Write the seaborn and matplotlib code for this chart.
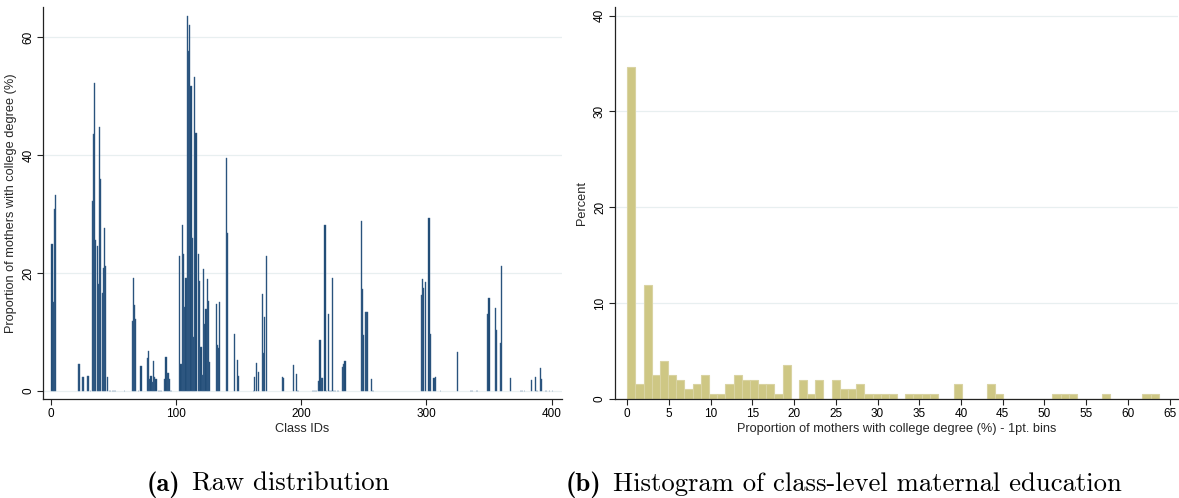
import numpy as np
import pandas as pd
import matplotlib
matplotlib.use("Agg")
import matplotlib.pyplot as plt
import seaborn as sns

# ---------------- data ----------------
# (a) raw distribution: class id -> proportion of mothers with college degree (%)
class_ids = [1, 2, 3, 4, 22, 23, 25, 26, 29, 30, 32,
             33, 34, 35, 36, 37, 38, 39, 40, 41, 42, 43, 44, 45,
             47, 48, 49, 50, 51, 52, 59,
             65, 66, 67, 68, 70, 72, 77, 78, 79, 80, 81, 82, 83, 84,
             86, 87, 88, 91, 92, 93, 94, 95, 96,
             103, 104, 105, 106, 107, 108, 109, 110, 111, 112, 113, 114, 115, 116,
             118, 119, 120, 121, 122, 123, 124, 125, 126, 127,
             132, 133, 134, 135, 140, 141, 147, 149, 150,
             162, 163, 164, 166, 169, 170, 171, 172,
             185, 186, 194, 196, 197, 198,
             209, 210, 211, 212, 214, 215, 216, 217, 219, 220, 222, 223, 224,
             225, 226, 227, 229, 230, 233, 234, 235,
             248, 249, 250, 251, 252, 253, 256, 257, 258,
             296, 297, 298, 299, 302, 303, 306, 307, 311, 325,
             335, 336, 337, 340, 341, 349, 350, 355, 356, 359, 360, 367,
             375, 376, 377, 378, 384, 387, 388, 389, 391, 392,
             395, 396, 398, 401]
class_values = [24.9, 15.1, 30.8, 33.3, 4.6, 4.5, 2.3, 2.3, 2.5, 2.5, 0.0,
                32.2, 43.6, 52.2, 25.6, 24.6, 18.1, 44.7, 35.9, 16.6, 20.9, 27.7, 21.1, 2.3,
                0.0, 0.0, 0.0, 0.0, 0.0, 0.0, 0.0,
                11.9, 19.1, 14.5, 12.2, 0.0, 4.2, 5.5, 6.7, 2.0, 2.5, 1.5, 5.1, 2.3, 2.0,
                0.0, 0.0, 0.0, 2.0, 5.8, 3.0, 3.0, 2.0, 0.0,
                22.9, 4.5, 28.1, 23.2, 14.2, 19.2, 63.6, 57.6, 62.1, 51.8, 25.9, 9.1, 53.3, 43.7,
                23.3, 18.7, 7.4, 2.7, 20.7, 11.4, 13.8, 18.9, 15.3, 4.9,
                14.7, 7.8, 7.3, 15.1, 39.5, 26.7, 9.7, 5.3, 2.5,
                0.0, 2.3, 4.7, 3.1, 16.4, 6.4, 12.6, 22.9,
                2.4, 2.2, 4.3, 2.9, 0.0, 0.0,
                0.0, 0.0, 0.0, 0.0, 1.7, 8.7, 2.1, 2.1, 28.2, 0.0, 13.1, 0.0, 0.0,
                19.2, 0.0, 0.0, 0.0, 0.0, 4.1, 4.5, 5.1,
                28.8, 17.3, 9.5, 13.3, 13.3, 13.3, 2.0, 0.0, 0.0,
                16.2, 19.0, 17.4, 18.5, 29.4, 9.6, 2.1, 2.3, 0.0, 6.6,
                0.0, 0.0, 0.0, 0.0, 0.0, 13.1, 15.8, 14.0, 10.3, 8.1, 21.2, 2.2,
                0.0, 0.0, 0.0, 0.0, 1.8, 2.4, 0.0, 0.0, 3.8, 2.0,
                0.0, 0.0, 0.0, 0.0]

# (b) histogram: percent of classes per bin (bins of ~0.98 pt starting at 0)
hist_pct = [34.65, 1.49, 11.88, 2.48, 3.96, 2.48, 1.98, 0.99, 1.49, 2.48,
            0.50, 0.50, 1.49, 2.48, 1.98, 1.98, 1.49, 1.49, 0.50, 3.47,
            0.00, 1.98, 0.50, 1.98, 0.00, 1.98, 0.99, 0.99, 1.49, 0.50,
            0.50, 0.50, 0.50, 0.00, 0.50, 0.50, 0.50, 0.50, 0.00, 0.00,
            1.49, 0.00, 0.00, 0.00, 1.49, 0.50, 0.00, 0.00, 0.00, 0.00,
            0.00, 0.00, 0.50, 0.50, 0.50, 0.00, 0.00, 0.00, 0.50, 0.00,
            0.00, 0.00, 0.00, 0.50, 0.50]
bin_width = 0.98

left_yticks = [0, 20, 40, 60]
left_xticks = [0, 100, 200, 300, 400]
right_yticks = [0, 10, 20, 30, 40]
right_xticks = list(range(0, 70, 5))

captions = [("(a)", "Raw distribution"),
            ("(b)", "Histogram of class-level maternal education")]

# ---------------- style ----------------
sns.set_theme(style="white")
plt.rcParams["font.family"] = ["Liberation Sans", "DejaVu Sans"]

NAVY = "#1b4771"
NAVY_EDGE = "#3f6690"
KHAKI = "#cec784"
KHAKI_EDGE = "#d9d3a2"
GRID = "#e8eff0"
TICK_FS = 8.5
LABEL_FS = 9.2
CAP_FS = 19.2

fig = plt.figure(figsize=(11.79, 4.98), dpi=100)
ax1 = fig.add_axes([0.0367, 0.1988, 0.4397, 0.7865])
ax2 = fig.add_axes([0.5216, 0.1994, 0.4775, 0.7871])

# ---------------- (a) ----------------
df_a = pd.DataFrame({"cls": class_ids, "val": class_values})
sns.barplot(data=df_a, x="cls", y="val", native_scale=True, width=0.9,
            color=NAVY, saturation=1, edgecolor=NAVY_EDGE, linewidth=0.3,
            errorbar=None, ax=ax1)
ax1.set_xlim(-6, 408)
ax1.set_ylim(-1.4, 65.1)
ax1.set_xticks(left_xticks)
ax1.set_yticks(left_yticks)
ax1.set_xlabel("Class IDs", fontsize=LABEL_FS, labelpad=2)
ax1.set_ylabel("Proportion of mothers with college degree (%)", fontsize=LABEL_FS, labelpad=4)

# ---------------- (b) ----------------
nbins = len(hist_pct)
df_b = pd.DataFrame({"center": (np.arange(nbins) + 0.5) * bin_width, "pct": hist_pct})
sns.histplot(data=df_b, x="center", weights="pct", bins=nbins,
             binrange=(0, nbins * bin_width), color=KHAKI, alpha=1,
             edgecolor=KHAKI_EDGE, linewidth=0.8, ax=ax2)
ax2.set_xlim(-1.47, 66)
ax2.set_ylim(0, 40.94)
ax2.set_xticks(right_xticks)
ax2.set_yticks(right_yticks)
ax2.set_xlabel("Proportion of mothers with college degree (%) - 1pt. bins",
               fontsize=LABEL_FS, labelpad=2)
ax2.set_ylabel("Percent", fontsize=LABEL_FS, labelpad=4)

for ax in (ax1, ax2):
    ax.set_axisbelow(True)
    ax.yaxis.grid(True, color=GRID, linewidth=0.9)
    ax.xaxis.grid(False)
    for s in ("top", "right"):
        ax.spines[s].set_visible(False)
    for s in ("left", "bottom"):
        ax.spines[s].set_color("#222222")
        ax.spines[s].set_linewidth(0.9)
    ax.tick_params(axis="both", which="major", direction="out", length=4.5,
                   width=0.8, color="#222222", labelsize=TICK_FS, pad=2,
                   bottom=True, left=True, labelcolor="black")
    for lab in ax.get_yticklabels():
        lab.set_rotation(90)
        lab.set_va("center")
        lab.set_ha("right")

# ---------------- captions ----------------
W, H = 1179.0, 498.0
renderer = fig.canvas.get_renderer()
cap_left = [147, 566]
cap_baseline = 7.5 / H
for (bold, rest), x0 in zip(captions, cap_left):
    t1 = fig.text(x0 / W, cap_baseline, bold, family="cmb10", fontsize=CAP_FS,
                  ha="left", va="baseline", color="black")
    bb = t1.get_window_extent(renderer)
    fig.text((bb.x1 + 11) / W, cap_baseline, rest, family="cmr10", fontsize=CAP_FS,
             ha="left", va="baseline", color="black")

fig.savefig("out.png", dpi=100)
